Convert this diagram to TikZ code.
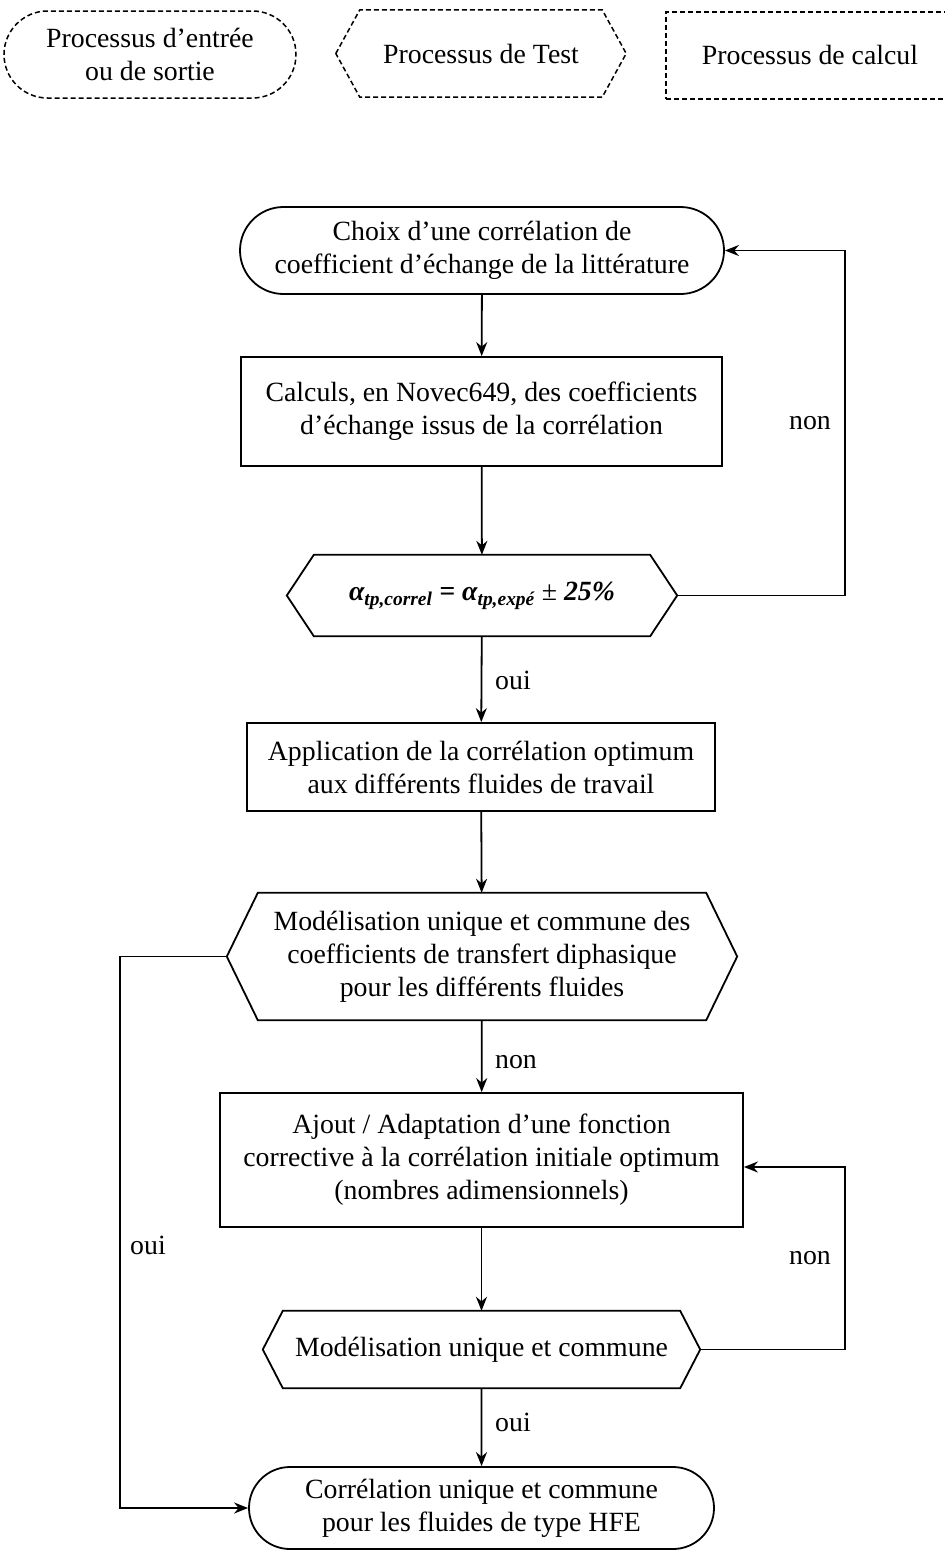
\documentclass[tikz,border=0pt]{standalone}
\usepackage{fontspec}
\setmainfont{Liberation Serif}
\usetikzlibrary{shapes.misc,arrows.meta,calc}
\newcommand{\myhex}[3]{\draw[#3] (#1.west) -- ([xshift=#2pt]#1.north west) -- ([xshift=-#2pt]#1.north east) -- (#1.east) -- ([xshift=-#2pt]#1.south east) -- ([xshift=#2pt]#1.south west) -- cycle;}
\begin{document}
\begin{tikzpicture}[x=1pt,y=-1pt,
  every node/.style={font=\fontsize{27.8}{33}\selectfont, align=center, inner sep=0pt},
  box/.style={draw, line width=1.8pt, rectangle},
  term/.style={draw, line width=1.8pt, rounded rectangle},
  ghost/.style={rectangle},
  solidline/.style={line width=1.8pt},
  legline/.style={line width=1.5pt, dash pattern=on 5pt off 3pt},
  arr/.style={line width=1.8pt, -{Stealth[length=14pt,width=11pt]}}
]
\useasboundingbox (0,0) rectangle (945,1551);
\clip (0,0) rectangle (945,1551);
% legend
\node[term, legline, minimum width=292pt, minimum height=87pt] (lg1) at (150,54.5) {Processus d’entrée\\ou de sortie};
\node[ghost, minimum width=290pt, minimum height=87pt] (lg2) at (481,53.5) {Processus de Test};
\myhex{lg2}{24}{legline}
\node[box, legline, minimum width=294pt, minimum height=87pt] (lg3rect) at (813,55.5) {};
\node (lg3) at (810,55) {Processus de calcul};
% flow
\coordinate (cR) at (845,0);
\coordinate (cL) at (120,0);
\node[term, minimum width=484pt, minimum height=87pt] (n1) at (482,250.5) {Choix d’une corrélation de\\coefficient d’échange de la littérature};
\node[box, minimum width=481pt, minimum height=109pt] (n2) at (481.5,411.5) {Calculs, en Novec649, des coefficients\\d’échange issus de la corrélation};
\node[ghost, minimum width=390pt, minimum height=81pt] (n3) at (482,595.5) {\bfseries\itshape α\textsubscript{tp,correl} = α\textsubscript{tp,expé} {\normalfont ±} 25\%};
\myhex{n3}{27}{solidline}
\node[box, minimum width=468pt, minimum height=88pt] (n4) at (481,767) {Application de la corrélation optimum\\aux différents fluides de travail};
\node[ghost, minimum width=510pt, minimum height=127pt] (n5) at (482,956.5) {Modélisation unique et commune des\\coefficients de transfert diphasique\\pour les différents fluides};
\myhex{n5}{31}{solidline}
\node[box, minimum width=523pt, minimum height=134pt] (n6) at (481.5,1160) {Ajout / Adaptation d’une fonction\\corrective à la corrélation initiale optimum\\(nombres adimensionnels)};
\node[ghost, minimum width=437pt, minimum height=77pt] (n7) at (481.5,1349.5) {Modélisation unique et commune};
\myhex{n7}{20}{solidline}
\node[term, minimum width=465pt, minimum height=82pt] (n8) at (481.5,1508) {Corrélation unique et commune\\pour les fluides de type HFE};
% connectors
\draw[arr] (n1) -- (n2);
\draw[arr] (n2) -- (n3);
\draw[arr] (n3) -- (n4);
\draw[arr] (n4) -- (n5);
\draw[arr] (n5) -- (n6);
\draw[arr] (n6) -- (n7);
\draw[arr] (n7) -- (n8);
\draw[arr] (n3.east) -- (n3.east -| cR) |- (n1.east);
\draw[arr] (n7.east) -- (n7.east -| cR) |- ([yshift=-7pt]n6.east);
\draw[arr] (n5.west) -- (n5.west -| cL) |- (n8.west);
% labels
\node (l1) at (810,423) {non};
\node (l2) at (513,680) {oui};
\node (l3) at (516,1062) {non};
\node (l4) at (148,1245) {oui};
\node (l5) at (810,1258) {non};
\node (l6) at (513,1422) {oui};
\end{tikzpicture}
\end{document}
